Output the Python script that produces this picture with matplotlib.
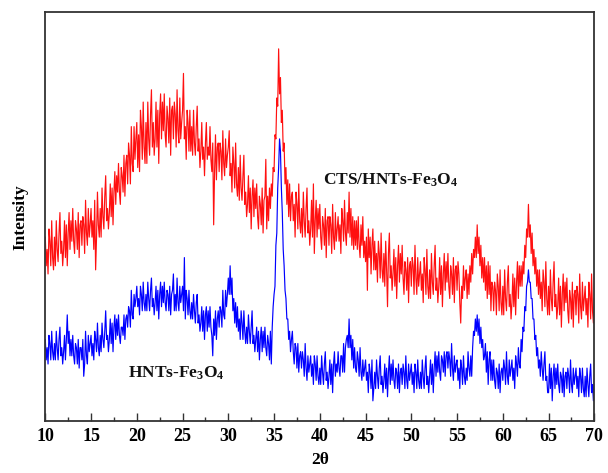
import matplotlib
matplotlib.use("Agg")
import matplotlib.pyplot as plt
from matplotlib.ticker import MultipleLocator

plt.rcParams['font.family'] = ['Liberation Serif', 'DejaVu Serif']
plt.rcParams['font.weight'] = 'bold'
plt.rcParams['mathtext.fontset'] = 'custom'
plt.rcParams['mathtext.rm'] = 'Liberation Serif:bold'
plt.rcParams['mathtext.it'] = 'Liberation Serif:bold'
plt.rcParams['mathtext.bf'] = 'Liberation Serif:bold'

# 2-theta grid (degrees), one reading every 0.1 deg from 10 to 70
two_theta = [round(10 + 0.1 * i, 1) for i in range(601)]

# CTS/HNTs-Fe3O4 (red), intensity (arbitrary units)
cts_hnts_fe3o4 = [
    45, 38, 42, 36, 47, 44, 38, 49, 40, 37,   # 10
    45, 38, 49, 42, 39, 46, 51, 41, 44, 38,   # 11
    42, 49, 40, 48, 38, 46, 51, 42, 49, 44,   # 12
    52, 44, 41, 49, 47, 42, 51, 40, 48, 49,   # 13
    43, 50, 48, 41, 54, 46, 43, 52, 45, 48,   # 14
    52, 45, 49, 42, 54, 37, 45, 56, 48, 45,   # 15
    52, 45, 57, 50, 47, 55, 60, 49, 52, 47,   # 16
    51, 58, 50, 57, 48, 56, 61, 53, 60, 56,   # 17
    63, 56, 53, 62, 60, 56, 65, 55, 63, 65,   # 18
    58, 68, 65, 58, 72, 63, 61, 72, 64, 69,   # 19
    73, 62, 70, 61, 76, 72, 64, 78, 67, 63,   # 20
    73, 63, 78, 69, 65, 75, 81, 67, 73, 65,   # 21
    69, 78, 67, 76, 63, 75, 80, 69, 78, 71,   # 22
    80, 70, 67, 77, 74, 68, 79, 65, 76, 77,   # 23
    69, 78, 75, 67, 81, 71, 68, 79, 69, 73,   # 24
    76, 85, 69, 72, 64, 76, 73, 66, 76, 66,   # 25
    72, 65, 76, 68, 65, 72, 77, 66, 69, 62,   # 26
    66, 73, 64, 67, 60, 68, 73, 64, 67, 65,   # 27
    72, 64, 61, 68, 48, 61, 70, 59, 67, 68,   # 28
    61, 68, 66, 59, 71, 63, 60, 69, 62, 65,   # 29
    67, 71, 60, 63, 56, 67, 63, 57, 68, 58,   # 30
    55, 62, 54, 65, 57, 54, 60, 65, 53, 56,   # 31
    50, 53, 60, 51, 57, 47, 55, 59, 50, 57,   # 32
    52, 58, 50, 47, 55, 53, 48, 57, 46, 54,   # 33
    55, 64, 47, 55, 49, 57, 52, 58, 55, 62,   # 34
    61, 70, 69, 79, 77, 91, 80, 84, 73, 76,   # 35
    66, 68, 58, 62, 53, 59, 50, 58, 49, 55,   # 36
    56, 49, 53, 45, 56, 53, 47, 58, 49, 46,   # 37
    52, 45, 56, 49, 45, 52, 57, 46, 49, 43,   # 38
    47, 54, 45, 58, 41, 49, 54, 45, 52, 47,   # 39
    53, 45, 42, 50, 48, 43, 52, 40, 49, 50,   # 40
    43, 50, 48, 41, 53, 45, 42, 51, 44, 47,   # 41
    50, 44, 48, 41, 52, 49, 44, 54, 46, 43,   # 42
    51, 46, 56, 45, 52, 43, 50, 42, 49, 43,   # 43
    49, 42, 50, 43, 40, 48, 43, 50, 40, 44,   # 44
    39, 45, 32, 47, 40, 45, 36, 43, 47, 37,   # 45
    44, 37, 41, 34, 44, 41, 35, 46, 37, 34,   # 46
    41, 33, 44, 37, 28, 41, 46, 35, 38, 32,   # 47
    36, 42, 33, 40, 30, 38, 43, 34, 41, 36,   # 48
    43, 35, 31, 39, 37, 32, 40, 29, 38, 39,   # 49
    33, 40, 38, 31, 43, 35, 31, 40, 33, 36,   # 50
    39, 32, 36, 29, 40, 37, 31, 42, 33, 30,   # 51
    37, 30, 41, 34, 31, 38, 43, 32, 35, 29,   # 52
    33, 40, 31, 38, 28, 36, 41, 32, 39, 34,   # 53
    41, 33, 30, 38, 36, 31, 40, 29, 37, 38,   # 54
    32, 39, 36, 29, 24, 33, 30, 38, 32, 35,   # 55
    37, 30, 36, 31, 38, 34, 41, 36, 42, 40,   # 56
    45, 40, 48, 41, 45, 38, 43, 35, 40, 34,   # 57
    40, 32, 38, 30, 39, 31, 38, 27, 34, 33,   # 58
    27, 34, 32, 26, 36, 33, 27, 37, 29, 26,   # 59
    33, 26, 37, 30, 27, 34, 38, 28, 31, 25,   # 60
    29, 36, 28, 35, 26, 34, 39, 30, 38, 33,   # 61
    38, 33, 39, 36, 43, 40, 47, 45, 53, 45,   # 62
    48, 41, 46, 38, 42, 36, 40, 33, 37, 31,   # 63
    37, 30, 34, 27, 37, 34, 28, 39, 30, 26,   # 64
    33, 26, 37, 30, 27, 34, 39, 28, 31, 25,   # 65
    28, 35, 26, 33, 23, 31, 36, 27, 34, 29,   # 66
    35, 27, 24, 32, 30, 25, 34, 23, 31, 32,   # 67
    26, 33, 31, 24, 36, 28, 25, 34, 27, 30,   # 68
    33, 26, 30, 23, 34, 31, 25, 36, 27, 24,   # 69
    30,
]

# HNTs-Fe3O4 (blue)
hnts_fe3o4 = [
    20, 15, 18, 14, 21, 19, 15, 22, 17, 15,   # 10
    19, 15, 22, 18, 15, 20, 23, 16, 18, 14,   # 11
    17, 21, 15, 20, 26, 19, 22, 16, 20, 16,   # 12
    21, 16, 14, 19, 18, 14, 20, 13, 18, 18,   # 13
    15, 20, 11, 14, 22, 16, 14, 21, 17, 19,   # 14
    21, 16, 19, 15, 22, 20, 17, 24, 18, 16,   # 15
    21, 17, 24, 20, 18, 22, 27, 20, 21, 17,   # 16
    20, 25, 19, 24, 17, 23, 26, 20, 25, 21,   # 17
    26, 21, 19, 23, 23, 21, 26, 20, 25, 26,   # 18
    23, 28, 27, 23, 32, 26, 25, 31, 28, 30,   # 19
    33, 28, 30, 26, 33, 31, 27, 34, 29, 27,   # 20
    31, 27, 34, 30, 27, 32, 35, 28, 30, 26,   # 21
    29, 33, 27, 32, 25, 31, 34, 28, 33, 29,   # 22
    34, 29, 27, 32, 31, 27, 33, 26, 31, 32,   # 23
    36, 27, 31, 27, 35, 29, 27, 33, 29, 31,   # 24
    33, 27, 40, 25, 32, 30, 26, 32, 27, 25,   # 25
    29, 25, 31, 27, 24, 29, 31, 24, 26, 22,   # 26
    24, 28, 22, 27, 20, 26, 28, 22, 27, 23,   # 27
    28, 23, 21, 16, 25, 21, 27, 20, 25, 27,   # 28
    23, 28, 27, 23, 32, 26, 25, 32, 28, 31,   # 29
    35, 31, 38, 31, 35, 27, 30, 24, 29, 23,   # 30
    28, 22, 25, 20, 27, 24, 20, 27, 22, 19,   # 31
    23, 19, 26, 22, 19, 23, 27, 19, 21, 17,   # 32
    20, 23, 17, 22, 15, 20, 23, 17, 22, 18,   # 33
    23, 18, 16, 21, 19, 15, 22, 14, 23, 28,   # 34
    31, 33, 43, 46, 57, 62, 69, 66, 57, 51,   # 35
    42, 38, 32, 30, 25, 25, 20, 22, 17, 20,   # 36
    22, 17, 14, 19, 18, 13, 19, 12, 16, 17,   # 37
    13, 17, 15, 11, 19, 13, 10, 16, 12, 14,   # 38
    16, 11, 14, 9, 16, 14, 10, 16, 11, 9,     # 39
    13, 9, 16, 12, 9, 14, 17, 10, 12, 8,      # 40
    11, 15, 9, 14, 7, 14, 17, 11, 14, 12,     # 41
    17, 13, 11, 16, 16, 12, 19, 12, 18, 20,   # 42
    21, 18, 25, 18, 21, 15, 20, 13, 18, 13,   # 43
    12, 17, 15, 11, 18, 12, 10, 15, 11, 13,   # 44
    15, 10, 12, 7, 14, 12, 8, 15, 5, 8,       # 45
    12, 8, 15, 11, 8, 13, 16, 9, 11, 7,       # 46
    10, 14, 8, 13, 6, 12, 16, 9, 14, 10,      # 47
    15, 10, 8, 13, 12, 8, 14, 7, 12, 13,      # 48
    9, 14, 12, 8, 16, 10, 8, 14, 10, 12,      # 49
    14, 9, 12, 7, 14, 12, 8, 15, 10, 8,       # 50
    12, 8, 15, 11, 8, 13, 16, 9, 11, 7,       # 51
    11, 15, 9, 14, 7, 13, 17, 11, 16, 12,     # 52
    17, 12, 10, 16, 15, 12, 17, 11, 16, 17,   # 53
    13, 17, 15, 11, 19, 13, 10, 16, 12, 14,   # 54
    15, 10, 13, 8, 15, 13, 9, 16, 11, 9,      # 55
    13, 10, 17, 13, 11, 16, 11, 18, 22, 21,   # 56
    25, 22, 26, 21, 25, 19, 23, 18, 20, 15,   # 57
    16, 19, 12, 17, 9, 15, 17, 10, 15, 10,    # 58
    15, 10, 8, 13, 12, 8, 14, 7, 12, 13,      # 59
    10, 15, 13, 9, 17, 11, 9, 15, 11, 13,     # 60
    15, 10, 13, 8, 16, 14, 11, 18, 14, 13,    # 61
    20, 17, 23, 22, 28, 27, 33, 34, 37, 34,   # 62
    34, 30, 30, 25, 25, 20, 21, 16, 18, 13,   # 63
    15, 11, 17, 13, 10, 14, 17, 10, 11, 7,    # 64
    7, 14, 8, 13, 5, 11, 14, 8, 13, 9,        # 65
    14, 9, 7, 12, 11, 7, 13, 6, 11, 12,       # 66
    8, 13, 11, 7, 15, 9, 7, 13, 9, 11,        # 67
    13, 8, 11, 6, 13, 11, 7, 13, 8, 6,        # 68
    11, 6, 13, 9, 6, 11, 14, 7, 9, 5,         # 69
    10,
]

x_ticks = [10, 15, 20, 25, 30, 35, 40, 45, 50, 55, 60, 65, 70]
label_top = 'CTS/HNTs-Fe$_3$O$_4$'
label_bottom = 'HNTs-Fe$_3$O$_4$'

fig = plt.figure(figsize=(6.08, 4.73), dpi=100)
ax = fig.add_axes([0.0745, 0.1093, 0.9030, 0.8653])

ax.plot(two_theta, cts_hnts_fe3o4, color='#ff1010', lw=0.85)
ax.plot(two_theta, hnts_fe3o4, color='#0000ff', lw=0.85)

ax.set_xlim(10, 70)
ax.set_ylim(0, 100)
ax.set_xticks(x_ticks)
ax.set_xticklabels([str(t) for t in x_ticks])
ax.xaxis.set_minor_locator(MultipleLocator(2.5))
ax.set_yticks([])
ax.tick_params(axis='x', which='major', direction='in', length=6, width=1.0,
               top=False, labelsize=13, pad=5, color='#333333')
ax.tick_params(axis='x', which='minor', direction='in', length=3.2, width=1.0,
               top=False, color='#333333')
for s in ax.spines.values():
    s.set_color('#333333')
    s.set_linewidth(1.3)

for lab in ax.get_xticklabels():
    lab.set_fontweight('bold')

ax.set_xlabel('2θ', fontsize=12.5, fontweight='bold', labelpad=5)
ax.set_ylabel('Intensity', fontsize=12.5, fontweight='bold', labelpad=12)

ax.text(40.3, 58.8, label_top, fontsize=12.5, fontweight='bold', color='#111111',
        ha='left', va='center')
ax.text(19.0, 11.8, label_bottom, fontsize=12.5, fontweight='bold', color='#111111',
        ha='left', va='center')

fig.savefig('out.png', dpi=100)
